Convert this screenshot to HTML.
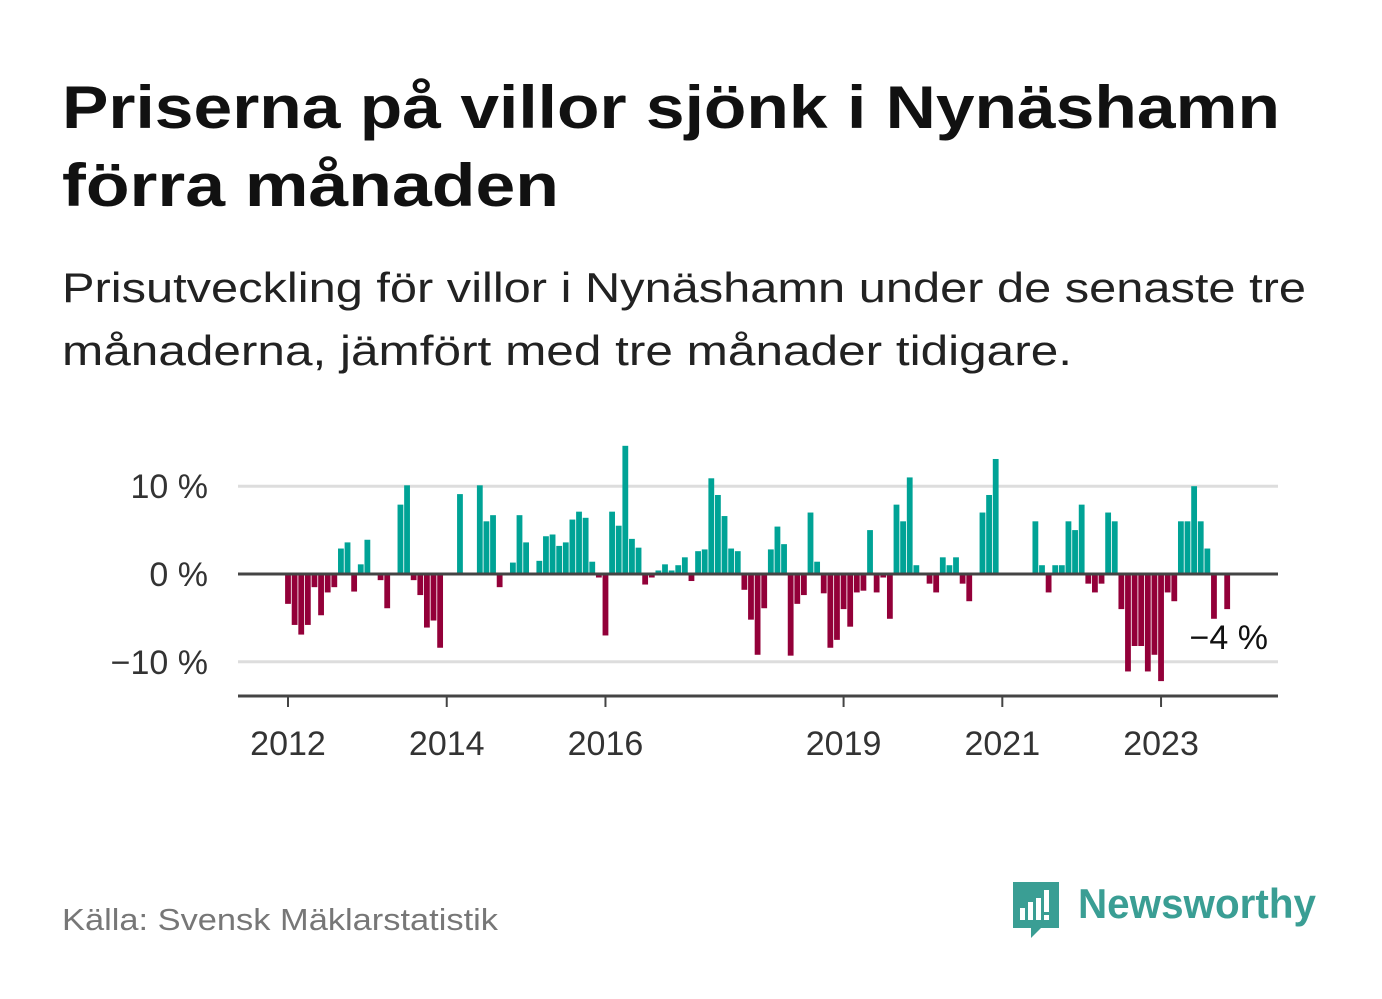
<!DOCTYPE html>
<html><head><meta charset="utf-8">
<style>
body{margin:0;background:#fff;width:1382px;height:999px;overflow:hidden;font-family:"Liberation Sans",sans-serif}
svg{display:block}
</style></head>
<body>
<svg width="1382" height="999" viewBox="0 0 1382 999">
<text x="62" y="128" font-size="60" font-weight="bold" fill="#111" textLength="1218" lengthAdjust="spacingAndGlyphs">Priserna på villor sjönk i Nynäshamn</text>
<text x="62" y="206" font-size="60" font-weight="bold" fill="#111" textLength="497" lengthAdjust="spacingAndGlyphs">förra månaden</text>
<text x="62" y="302" font-size="42" fill="#222" textLength="1244" lengthAdjust="spacingAndGlyphs">Prisutveckling för villor i Nynäshamn under de senaste tre</text>
<text x="62" y="365" font-size="42" fill="#222" textLength="1010" lengthAdjust="spacingAndGlyphs">månaderna, jämfört med tre månader tidigare.</text>
<g id="plot"></g>
<text x="62" y="930" font-size="31" fill="#777" textLength="436" lengthAdjust="spacingAndGlyphs">Källa: Svensk Mäklarstatistik</text>
<g>
<path d="M1013 882 h46 v46 h-18 l-10 10 v-10 h-18 z" fill="#3a9e94"/>
<rect x="1020" y="908" width="5" height="12" fill="#fff"/><rect x="1028" y="902" width="5" height="18" fill="#fff"/><rect x="1036" y="898" width="5" height="22" fill="#fff"/><rect x="1044" y="890" width="5" height="22" fill="#fff"/><rect x="1044" y="915" width="5" height="5" fill="#fff"/>
<text x="1078" y="918" font-size="42" font-weight="bold" fill="#3a9e94" textLength="238" lengthAdjust="spacingAndGlyphs">Newsworthy</text>
</g>
</svg>
<script>
const values=[-3.4,-5.8,-6.9,-5.8,-1.5,-4.7,-2.1,-1.5,2.9,3.6,-2.0,1.1,3.9,0,-0.7,-3.9,0,7.9,10.1,-0.7,-2.4,-6.1,-5.3,-8.4,
0,0,9.1,0,0,10.1,6.0,6.7,-1.5,0,1.3,6.7,3.6,0,1.5,4.3,4.5,3.2,3.6,6.2,7.1,6.4,1.4,-0.4,
-7.0,7.1,5.5,14.6,4.0,3.0,-1.2,-0.4,0.4,1.1,0.4,1.0,1.9,-0.8,2.6,2.8,10.9,9.0,6.6,2.9,2.6,-1.8,-5.2,-9.2,
-3.9,2.8,5.4,3.4,-9.3,-3.4,-2.4,7.0,1.4,-2.2,-8.4,-7.5,-4.0,-6.0,-2.1,-1.9,5.0,-2.1,-0.4,-5.1,7.9,6.0,11.0,1.0,
0,-1.1,-2.1,1.9,1.0,1.9,-1.1,-3.1,0,7.0,9.0,13.1,0,0,0,0,0,6.0,1.0,-2.1,1.0,1.0,6.0,5.0,7.9,-1.1,
-2.1,-1.1,7.0,6.0,-4.0,-11.1,-8.2,-8.2,-11.1,-9.2,-12.2,-2.1,-3.1,6.0,6.0,10.0,6.0,2.9,-5.1,0,-4.0];
const yTicks=[10,0,-10];
const yTickLabels=["10 %","0 %","\u221210 %"];
const xTickMonths=[0,24,48,84,108,132];
const xTickLabels=["2012","2014","2016","2019","2021","2023"];
const lastLabel="\u22124 %";
const NS="http://www.w3.org/2000/svg";
const g=document.getElementById('plot');
const x=i=>288+i*6.614;
const y=v=>574-v*8.78;
function mk(t,a){const e=document.createElementNS(NS,t);for(const k in a)e.setAttribute(k,a[k]);g.appendChild(e);return e;}
yTicks.forEach((v,k)=>{
 if(v!==0){const l=mk('line',{x1:238,x2:1278,y1:y(v),y2:y(v),stroke:'#dddddd','stroke-width':3});
 
 }
 const t=mk('text',{x:208,y:y(v)+12,'font-size':34,fill:'#333','text-anchor':'end'});t.textContent=yTickLabels[k];
 
 
});
values.forEach((v,i)=>{
 if(v===0)return;
 const r=mk('rect',{x:x(i)-2.9,width:5.8,y:Math.min(y(v),y(0)),height:Math.abs(y(v)-y(0)),fill:v>0?'#00a396':'#930039'});
 
 
});
const z=mk('line',{x1:238,x2:1278,y1:y(0),y2:y(0),stroke:'#444','stroke-width':3});


const ax=mk('line',{x1:238,x2:1278,y1:696,y2:696,stroke:'#444','stroke-width':3});


xTickMonths.forEach((m,k)=>{
 const tk=mk('line',{x1:x(m),x2:x(m),y1:696,y2:707,stroke:'#444','stroke-width':2});
 
 
 const t=mk('text',{x:x(m),y:755,'font-size':34,fill:'#333','text-anchor':'middle'});t.textContent=xTickLabels[k];
 
 
});
const ll=mk('text',{x:1268,y:649,'font-size':34,fill:'#111','text-anchor':'end'});ll.textContent=lastLabel;


</script>
</body></html>
